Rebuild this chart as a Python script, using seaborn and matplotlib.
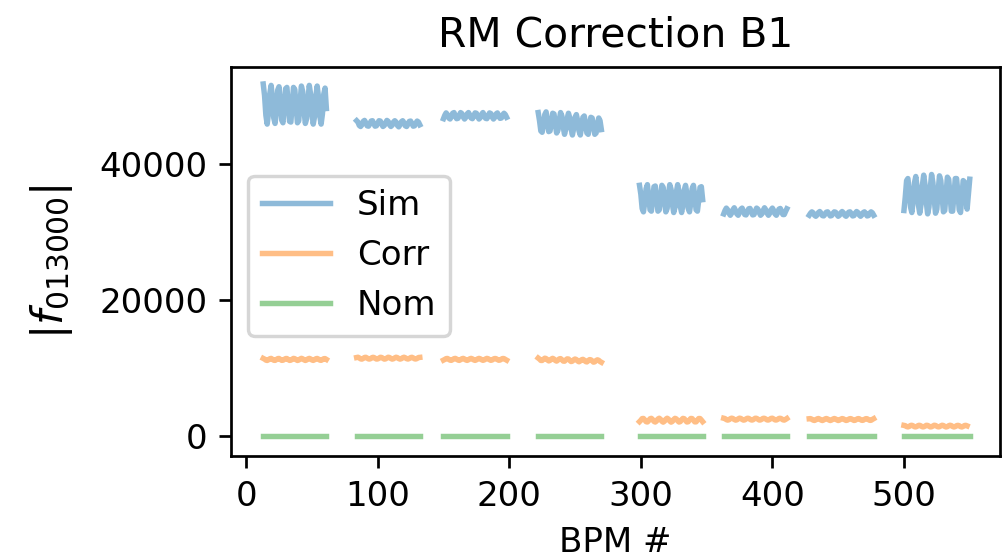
import numpy as np
import pandas as pd
import matplotlib
matplotlib.use("Agg")
import matplotlib.pyplot as plt
import seaborn as sns

# ---------------- data ----------------
series_names = ["Sim", "Corr", "Nom"]
x_label = "BPM #"
y_label = r"$|f_{013000}|$"
title = "RM Correction B1"

# first BPM index of each arc segment
segment_starts = [13, 84, 150, 222, 299, 363, 428, 500]

sim_1 = [51800, 50100, 47200, 45900, 47500, 50400, 51600, 49800, 46800, 46000, 47900, 50900, 51400, 49300, 46500, 46100, 48300, 51100, 51300, 48900, 46300, 46200, 48700, 51300, 51000, 48400, 46100, 46400, 49200, 51500, 50700, 47900, 46000, 46700, 49600, 51600, 50300, 47500, 45900, 47000, 50000, 51500, 49900, 47100, 45900, 47400, 50300, 51200, 48200]
sim_2 = [46400, 46200, 45700, 45550, 45800, 46300, 46450, 46100, 45650, 45600, 45900, 46350, 46400, 46000, 45600, 45650, 46000, 46400, 46350, 45900, 45550, 45700, 46100, 46450, 46300, 45800, 45550, 45750, 46200, 46400, 46200, 45700, 45500, 45800, 46250, 46400, 46100, 45650, 45550, 45900, 46300, 46350, 46000, 45600, 45650, 46050, 46350, 46200, 45800]
sim_3 = [46700, 47200, 47550, 47300, 46800, 46650, 47000, 47500, 47600, 47100, 46700, 46750, 47200, 47600, 47450, 46950, 46650, 46900, 47400, 47600, 47250, 46800, 46700, 47100, 47550, 47500, 47000, 46650, 46850, 47350, 47600, 47200, 46750, 46700, 47150, 47550, 47450, 46950, 46650, 46900, 47400, 47550, 47150, 46750, 46800, 47250, 47500, 47300, 46900]
sim_4 = [47600, 46400, 44900, 44700, 45800, 47300, 47700, 46300, 44800, 44900, 46100, 47500, 47400, 45900, 44600, 45000, 46500, 47600, 47100, 45500, 44400, 45200, 46700, 47500, 46800, 45200, 44300, 45300, 46900, 47300, 46400, 44900, 44300, 45500, 46900, 47100, 46000, 44600, 44400, 45700, 46900, 46800, 45600, 44400, 44600, 45900, 46800, 46400, 45100]
sim_5 = [36900, 35600, 33500, 33000, 34400, 36400, 37000, 35300, 33300, 33100, 34800, 36700, 36800, 34900, 33100, 33300, 35200, 36900, 36600, 34500, 33000, 33500, 35600, 37000, 36300, 34100, 32900, 33700, 35900, 37000, 36000, 33800, 32900, 34000, 36200, 36900, 35700, 33500, 33000, 34300, 36400, 36900, 35300, 33300, 33100, 34700, 36600, 36700, 34800]
sim_6 = [32700, 33200, 33550, 33300, 32800, 32500, 32800, 33300, 33600, 33200, 32700, 32500, 32900, 33400, 33550, 33100, 32600, 32550, 33000, 33450, 33500, 33000, 32550, 32600, 33100, 33550, 33400, 32900, 32500, 32700, 33200, 33600, 33300, 32800, 32500, 32800, 33300, 33550, 33200, 32700, 32500, 32900, 33400, 33500, 33050, 32600, 32600, 33050, 33450]
sim_7 = [32500, 32800, 33000, 32850, 32500, 32350, 32550, 32900, 33050, 32800, 32450, 32400, 32650, 32950, 33000, 32700, 32400, 32450, 32750, 33000, 32950, 32600, 32350, 32500, 32850, 33050, 32850, 32500, 32350, 32600, 32950, 33000, 32700, 32400, 32450, 32800, 33050, 32900, 32550, 32350, 32550, 32900, 33000, 32750, 32400, 32450, 32800, 33000, 32850, 32500]
sim_8 = [33200, 35200, 37600, 37900, 36100, 33700, 32900, 34600, 37300, 38200, 36600, 34000, 32800, 34100, 36900, 38400, 37000, 34400, 32700, 33700, 36500, 38500, 37300, 34800, 32800, 33400, 36100, 38300, 37600, 35200, 33000, 33200, 35700, 38100, 37800, 35500, 33100, 33100, 35400, 37900, 37900, 35800, 33300, 32900, 35000, 37600, 37400, 35200, 33400, 35600, 37800]

corr_1 = [11450, 11350, 11200, 11150, 11250, 11400, 11450, 11320, 11180, 11160, 11280, 11420, 11440, 11300, 11170, 11180, 11300, 11430, 11430, 11280, 11160, 11190, 11330, 11450, 11410, 11260, 11150, 11210, 11360, 11460, 11390, 11240, 11150, 11230, 11380, 11450, 11370, 11220, 11160, 11250, 11400, 11440, 11340, 11200, 11170, 11270, 11410, 11420, 11300]
corr_2 = [11580, 11620, 11520, 11380, 11350, 11450, 11590, 11610, 11500, 11370, 11360, 11470, 11600, 11600, 11480, 11360, 11370, 11490, 11610, 11590, 11460, 11350, 11380, 11510, 11620, 11580, 11440, 11350, 11400, 11530, 11620, 11560, 11420, 11350, 11410, 11550, 11620, 11540, 11410, 11360, 11430, 11570, 11610, 11520, 11390, 11360, 11450, 11580, 11600]
corr_3 = [11200, 11300, 11420, 11440, 11330, 11190, 11170, 11280, 11410, 11450, 11350, 11210, 11160, 11260, 11400, 11450, 11360, 11220, 11160, 11250, 11390, 11450, 11380, 11230, 11160, 11240, 11380, 11450, 11390, 11250, 11170, 11230, 11370, 11450, 11400, 11260, 11170, 11220, 11360, 11440, 11410, 11280, 11180, 11210, 11340, 11440, 11420, 11300, 11190]
corr_4 = [11500, 11350, 11150, 11150, 11320, 11480, 11430, 11230, 11080, 11160, 11360, 11460, 11350, 11150, 11050, 11200, 11380, 11420, 11260, 11060, 11040, 11230, 11380, 11360, 11160, 10990, 11050, 11250, 11360, 11280, 11070, 10950, 11080, 11260, 11310, 11190, 10990, 10930, 11110, 11270, 11250, 11090, 10900, 10950, 11140, 11240, 11170, 10990, 10880]
corr_5 = [2150, 2350, 2600, 2620, 2400, 2150, 2100, 2300, 2570, 2640, 2450, 2180, 2090, 2260, 2540, 2650, 2490, 2210, 2080, 2220, 2510, 2650, 2520, 2240, 2080, 2190, 2470, 2640, 2550, 2280, 2090, 2160, 2440, 2630, 2580, 2320, 2100, 2140, 2410, 2620, 2600, 2350, 2120, 2120, 2380, 2610, 2610, 2390, 2150]
corr_6 = [2650, 2600, 2450, 2380, 2430, 2580, 2660, 2610, 2470, 2380, 2420, 2560, 2660, 2620, 2480, 2380, 2410, 2550, 2650, 2630, 2500, 2390, 2400, 2530, 2650, 2640, 2510, 2390, 2400, 2520, 2640, 2640, 2530, 2400, 2390, 2500, 2630, 2650, 2540, 2410, 2390, 2490, 2620, 2650, 2560, 2420, 2380, 2480, 2610]
corr_7 = [2580, 2600, 2500, 2370, 2330, 2420, 2560, 2610, 2520, 2380, 2320, 2400, 2550, 2610, 2540, 2390, 2320, 2390, 2530, 2610, 2550, 2410, 2320, 2380, 2520, 2600, 2560, 2420, 2330, 2370, 2510, 2600, 2570, 2430, 2330, 2360, 2500, 2600, 2580, 2440, 2340, 2360, 2490, 2590, 2580, 2450, 2340, 2350, 2480, 2590]
corr_8 = [1600, 1560, 1430, 1380, 1450, 1590, 1620, 1530, 1400, 1380, 1470, 1600, 1610, 1510, 1390, 1390, 1490, 1610, 1600, 1490, 1380, 1400, 1510, 1620, 1590, 1470, 1380, 1410, 1530, 1620, 1580, 1450, 1370, 1420, 1550, 1620, 1570, 1440, 1370, 1430, 1560, 1610, 1550, 1420, 1370, 1450, 1580, 1610, 1530]

# nominal lattice: flat at zero in every arc
nom_levels = [0, 0, 0, 0, 0, 0, 0, 0]

sim_segments = [sim_1, sim_2, sim_3, sim_4, sim_5, sim_6, sim_7, sim_8]
corr_segments = [corr_1, corr_2, corr_3, corr_4, corr_5, corr_6, corr_7, corr_8]

# ---------------- long table ----------------
rows = []
for seg, start in enumerate(segment_starts):
    sim_vals = sim_segments[seg]
    corr_vals = corr_segments[seg]
    for i, v in enumerate(sim_vals):
        rows.append((start + i, v, "Sim", seg))
    for i, v in enumerate(corr_vals):
        rows.append((start + i, v, "Corr", seg))
    for i in range(len(sim_vals)):
        rows.append((start + i, nom_levels[seg], "Nom", seg))
df = pd.DataFrame(rows, columns=["bpm", "value", "series", "segment"])

# ---------------- plot ----------------
DPI = 245
fig = plt.figure(figsize=(1003 / DPI, 559 / DPI), dpi=DPI)
ax = fig.add_axes([231 / 1003, 1 - 456 / 559, (1000 - 231) / 1003, (456 - 67) / 559])

palette = {"Sim": "#1f77b4", "Corr": "#ff7f0e", "Nom": "#2ca02c"}
sns.lineplot(data=df, x="bpm", y="value", hue="series", hue_order=series_names,
             units="segment", estimator=None, palette=palette, alpha=0.5,
             linewidth=1.6, sort=False, ax=ax)

ax.set_xlim(-11.5, 573)
ax.set_ylim(-2900, 54300)
ax.set_xticks([0, 100, 200, 300, 400, 500])
ax.set_yticks([0, 20000, 40000])
ax.set_xlabel(x_label)
ax.set_ylabel(y_label, fontsize=12.5, labelpad=7)
ax.set_title(title)

handles, labels = ax.get_legend_handles_labels()
for h in handles:
    h.set_alpha(0.5)
ax.legend(handles, labels, loc="center left", bbox_to_anchor=(0, 0.515))

fig.savefig("out.png", dpi=DPI)
